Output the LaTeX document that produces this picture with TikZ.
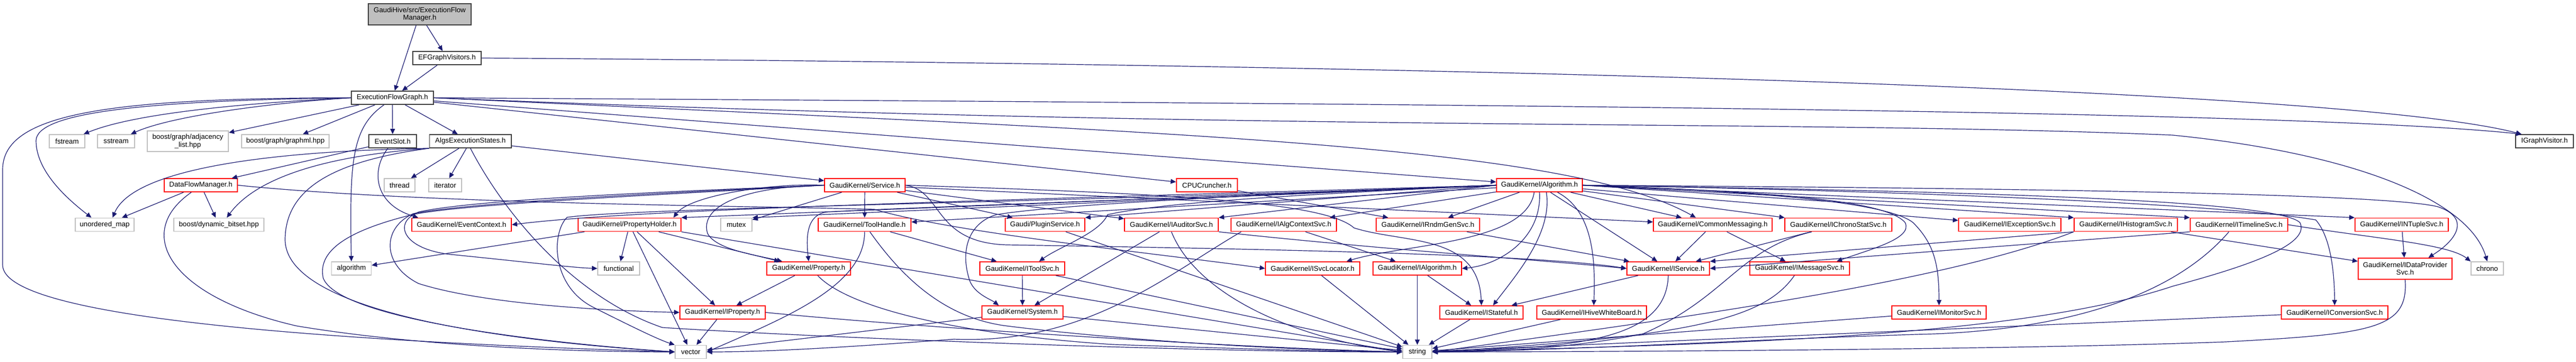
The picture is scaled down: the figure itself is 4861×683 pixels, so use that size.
\documentclass[tikz,border=0pt]{standalone}
\usepackage{fontspec}
\setmainfont{Liberation Sans}
\usetikzlibrary{arrows.meta,calc}
\definecolor{edgec}{HTML}{191970}
\definecolor{grayb}{HTML}{BFBFBF}
\definecolor{blackb}{HTML}{404040}
\definecolor{redb}{HTML}{FF0000}
\newcommand{\mknode}[6]{\node[#1, minimum width=#4pt, minimum height=#5pt] (#2) at (#3) {#6};}
\begin{document}
\begin{tikzpicture}[x=0.5pt, y=-0.5pt,
  nd/.style={draw, rectangle, fill=white, inner sep=0pt, align=center,
    font=\fontsize{6.65}{7.2}\selectfont, line width=0.9pt},
  rn/.style={nd, draw=redb},
  gn/.style={nd, draw=grayb},
  bn/.style={nd, draw=blackb},
  topn/.style={nd, draw=blackb, fill=grayb},
  dep/.style={draw=edgec, line width=0.6pt, -{Triangle[length=5pt,width=4.5pt]}}]
\useasboundingbox (0,0) rectangle (4861,683);
% ---------------- nodes ----------------
\mknode{topn}{efm}{792,27}{97}{20}{GaudiHive/src/ExecutionFlow\\Manager.h}
\mknode{bn}{efgv}{843.5,109.5}{64.5}{12.5}{EFGraphVisitors.h}
\mknode{bn}{efg}{740.5,184.5}{77.5}{12.5}{ExecutionFlowGraph.h}
\mknode{gn}{fstream}{126.5,266.5}{33.5}{12.5}{fstream}
\mknode{gn}{sstream}{219,266.5}{35}{12.5}{sstream}
\mknode{gn}{adj}{354.5,266.5}{76.5}{19.5}{boost/graph/adjacency\\\_list.hpp}
\mknode{gn}{graphml}{538.5,266.5}{82.5}{12.5}{boost/graph/graphml.hpp}
\mknode{bn}{eventslot}{741,266.5}{45}{12.5}{EventSlot.h}
\mknode{bn}{aes}{887.75,266.5}{77.25}{12.5}{AlgsExecutionStates.h}
\mknode{bn}{igv}{4801.5,266.5}{54.5}{12.5}{IGraphVisitor.h}
\mknode{rn}{dfm}{379,349.5}{69}{12.5}{DataFlowManager.h}
\mknode{gn}{thread}{754,349.5}{29}{12.5}{thread}
\mknode{gn}{iterator}{840,349.5}{31}{12.5}{iterator}
\mknode{rn}{service}{1632,349.5}{76}{12.5}{GaudiKernel/Service.h}
\mknode{rn}{cpu}{2277.5,349.5}{57.5}{12.5}{CPUCruncher.h}
\mknode{rn}{alg}{2905,349.5}{81}{12.5}{GaudiKernel/Algorithm.h}
\mknode{gn}{umap}{197.5,424}{55.5}{12.5}{unordered\_map}
\mknode{gn}{dynbit}{413,424}{85}{12.5}{boost/dynamic\_bitset.hpp}
\mknode{rn}{evctx}{871,424}{94}{12.5}{GaudiKernel/EventContext.h}
\mknode{rn}{propholder}{1188,424}{97}{12.5}{GaudiKernel/PropertyHolder.h}
\mknode{gn}{mutex}{1389.5,424}{29.5}{12.5}{mutex}
\mknode{rn}{toolhandle}{1631.5,424}{87.5}{12.5}{GaudiKernel/ToolHandle.h}
\mknode{rn}{plugin}{1972,424}{75}{12.5}{Gaudi/PluginService.h}
\mknode{rn}{iauditor}{2210.5,424}{88.5}{12.5}{GaudiKernel/IAuditorSvc.h}
\mknode{rn}{ialgctx}{2422.5,424}{99.5}{12.5}{GaudiKernel/IAlgContextSvc.h}
\mknode{rn}{irndm}{2694.5,424}{97.5}{12.5}{GaudiKernel/IRndmGenSvc.h}
\mknode{rn}{commsg}{3232,424}{112}{12.5}{GaudiKernel/CommonMessaging.h}
\mknode{rn}{ichrono}{3469,424}{101}{12.5}{GaudiKernel/IChronoStatSvc.h}
\mknode{rn}{iexc}{3792.5,424}{96.5}{12.5}{GaudiKernel/IExceptionSvc.h}
\mknode{rn}{ihist}{4011.5,424}{97.5}{12.5}{GaudiKernel/IHistogramSvc.h}
\mknode{rn}{itimeline}{4225,424}{92}{12.5}{GaudiKernel/ITimelineSvc.h}
\mknode{rn}{intuple}{4532,424}{88}{12.5}{GaudiKernel/INTupleSvc.h}
\mknode{gn}{algstd}{663,506.5}{37.5}{12.5}{algorithm}
\mknode{gn}{functional}{1167.5,506.5}{39.5}{12.5}{functional}
\mknode{rn}{property}{1526,506.5}{79}{12.5}{GaudiKernel/Property.h}
\mknode{rn}{itoolsvc}{1929,506.5}{80}{12.5}{GaudiKernel/IToolSvc.h}
\mknode{rn}{isvcloc}{2477,506.5}{89}{12.5}{GaudiKernel/ISvcLocator.h}
\mknode{rn}{ialgorithm}{2674.5,506.5}{83.5}{12.5}{GaudiKernel/IAlgorithm.h}
\mknode{rn}{iservice}{3148,506.5}{78}{12.5}{GaudiKernel/IService.h}
\mknode{rn}{imsgsvc}{3396,506.5}{94}{12.5}{GaudiKernel/IMessageSvc.h}
\mknode{rn}{idataprov}{4538.5,507}{88.5}{20}{GaudiKernel/IDataProvider\\Svc.h}
\mknode{gn}{chrono}{4693.5,506.5}{30.5}{12.5}{chrono}
\mknode{rn}{iproperty}{1363.5,589.5}{80.5}{12.5}{GaudiKernel/IProperty.h}
\mknode{rn}{system}{1929.5,589.5}{76.5}{12.5}{GaudiKernel/System.h}
\mknode{rn}{istateful}{2795.5,589.5}{78.5}{12.5}{GaudiKernel/IStateful.h}
\mknode{rn}{ihive}{3003.5,589.5}{103.5}{12.5}{GaudiKernel/IHiveWhiteBoard.h}
\mknode{rn}{imonitor}{3659,589.5}{89}{12.5}{GaudiKernel/IMonitorSvc.h}
\mknode{rn}{iconv}{4405.5,589.5}{100.5}{12.5}{GaudiKernel/IConversionSvc.h}
\mknode{gn}{vector}{1303.5,664}{29.5}{12.5}{vector}
\mknode{gn}{string}{2674.5,664}{27.5}{12.5}{string}
% ---------------- straight edges ----------------
\foreach \a/\b in {efm/efg, efm/efgv, efgv/efg, efg/adj, efg/graphml, efg/eventslot, efg/aes, efg/alg, efg/cpu,
  eventslot/dfm, aes/service, aes/thread, aes/iterator, dfm/umap, dfm/dynbit,
  service/toolhandle, service/plugin, service/iauditor, service/mutex, service/commsg,
  propholder/functional, propholder/iproperty, propholder/property, propholder/vector, propholder/algstd,
  property/iproperty, iproperty/vector, toolhandle/itoolsvc, itoolsvc/system, itoolsvc/string,
  iauditor/system, plugin/string, ialgctx/ialgorithm, ialgorithm/string, ialgorithm/istateful,
  isvcloc/string, irndm/iservice, commsg/iservice, commsg/imsgsvc, iservice/istateful,
  istateful/string, ihive/string, ichrono/iservice, ihist/idataprov, intuple/idataprov,
  cpu/irndm, alg/ialgctx, alg/irndm, alg/commsg, alg/iservice, alg/ichrono, alg/iexc, alg/toolhandle,
  imonitor/string, iconv/string, system/string, system/vector}
  \draw[dep] (\a) -- (\b);
\draw[dep] (propholder.south east) -- (string.west);
\draw[dep] (ihist.south west) -- (iservice.north east);
\draw[dep] (itimeline.south west) -- (iservice.east);
\draw[dep] (alg.west) -- (plugin.north east);
\draw[dep] (alg.west) -- (iauditor.north east);
\draw[dep] (alg.west) -- (mutex.north east);
\draw[dep] (alg.west) -- (propholder.north east);
\draw[dep] (alg.east) -- (ihist.north west);
\draw[dep] (alg.east) -- (itimeline.north west);
\draw[dep] (alg.east) -- (intuple.north west);
% ---------------- curved edges ----------------
\draw[dep] (efgv.east) .. controls (2500,120) and (4400,160) .. ($(igv.north west)+(12,0)$);
\draw[dep] (efg.east) .. controls (2500,195) and (4300,205) .. ($(igv.north west)+(12,0)$);
\draw[dep] (efg.east) .. controls (2400,250) and (3400,225) .. (4100,255) .. controls (4450,290) and (4660,380) .. (chrono.north);
\draw[dep] (efg.east) .. controls (2200,250) and (2950,270) .. ($(commsg.north)+(-32,0)$);
\draw[dep] (efg.west) .. controls (450,195) and (250,215) .. ($(fstream.north east)+(-3,0)$);
\draw[dep] (efg.west) .. controls (500,195) and (320,220) .. ($(sstream.north east)+(-8,0)$);
\draw[dep] (efg.west) .. controls (250,190) and (70,215) .. (68,265) .. controls (68,320) and (120,370) .. ($(umap.north)+(-25,0)$);
\draw[dep] (efg.west) .. controls (200,185) and (5,215) .. (5,320) -- (5,500) .. controls (5,590) and (500,640) .. (vector.west);
\draw[dep] ($(efg.south)+(-16,0)$) .. controls (665,240) and (659,300) .. (algstd.north);
\draw[dep] ($(eventslot.south)+(-9,0)$) .. controls (700,320) and (705,385) .. ($(evctx.north west)+(13,0)$);
\draw[dep] (aes.south west) .. controls (500,285) and (250,320) .. ($(umap.north)+(15,0)$);
\draw[dep] (aes.south west) .. controls (600,295) and (480,340) .. ($(dynbit.north)+(15,0)$);
\draw[dep] (aes.south west) .. controls (620,305) and (540,360) .. (538,450) .. controls (535,580) and (900,640) .. (vector.west);
\draw[dep] (aes.south) .. controls (950,400) and (1080,560) .. (1250,618) .. controls (1600,640) and (2300,665) .. (string.west);
\draw[dep] ($(dfm.south)+(-18,0)$) .. controls (250,440) and (320,560) .. (560,615) .. controls (800,655) and (1100,664) .. (vector.west);
\draw[dep] (dfm.east) .. controls (800,385) and (1400,388) .. (1650,395) .. controls (1800,440) and (2200,480) .. (isvcloc.west);
\draw[dep] (service.west) .. controls (1300,360) and (900,375) .. (790,400) .. controls (740,420) and (760,470) .. (850,480) .. controls (1000,495) and (1080,505) .. (functional.west);
\draw[dep] (service.west) .. controls (1300,362) and (900,380) .. (780,403) .. controls (720,430) and (720,500) .. (790,535) .. controls (900,570) and (1100,585) .. (iproperty.west);
\draw[dep] (service.west) .. controls (1300,365) and (850,385) .. (770,407) .. controls (640,440) and (600,480) .. (610,525) .. controls (640,600) and (1000,645) .. (vector.west);
\draw[dep] (service.east) .. controls (1780,360) and (1760,458) .. (1900,462) .. controls (2400,470) and (2900,480) .. (iservice.west);
\draw[dep] (service.east) .. controls (2200,365) and (2500,380) .. (2555,430) .. controls (2650,460) and (2790,440) .. (istateful.north);
\draw[dep] (service.west) .. controls (1450,345) and (1300,370) .. ($(propholder.north east)+(-15,0)$);
\draw[dep] (service.west) .. controls (1400,352) and (1320,390) .. (1335,440) .. controls (1350,470) and (1420,480) .. ($(property.north)+(-50,0)$);
\draw[dep] (toolhandle.south) .. controls (1632,540) and (1480,600) .. (vector.east);
\draw[dep] ($(toolhandle.south)+(10,0)$) .. controls (1700,520) and (1780,600) .. (1900,615) .. controls (2100,640) and (2400,660) .. (string.west);
\draw[dep] (iauditor.south) .. controls (2260,560) and (2450,640) .. (string.west);
\draw[dep] (iauditor.south east) .. controls (2600,470) and (2900,490) .. (iservice.west);
\draw[dep] ($(ialgctx.south west)+(20,0)$) .. controls (2200,520) and (2050,650) .. (1800,640) .. controls (1600,655) and (1450,664) .. (vector.east);
\draw[dep] ($(ichrono.south)+(-50,0)$) .. controls (3280,470) and (3260,560) .. (3100,630) .. controls (2950,660) and (2800,664) .. (string.east);
\draw[dep] (ihist.south west) .. controls (3700,520) and (3300,585) .. (string.east);
\draw[dep] ($(itimeline.south)+(-19,0)$) .. controls (4100,560) and (3900,620) .. (3650,630) .. controls (3300,640) and (3000,660) .. (string.east);
\draw[dep] (idataprov.south) .. controls (4545,620) and (4480,630) .. (4200,645) .. controls (3800,660) and (3000,664) .. (string.east);
\draw[dep] ($(imsgsvc.south)+(-10,0)$) .. controls (3330,600) and (3200,635) .. (string.east);
\draw[dep] (iservice.south) .. controls (3145,650) and (2950,655) .. (string.east);
\draw[dep] ($(property.south)+(17,0)$) .. controls (1600,580) and (1800,630) .. (2100,650) .. controls (2400,660) and (2550,664) .. (string.west);
\draw[dep] (iproperty.east) .. controls (1700,615) and (2300,655) .. (string.west);
\draw[dep] (itimeline.east) .. controls (4480,450) and (4620,460) .. (chrono.north west);
\draw[dep] (alg.west) .. controls (1800,380) and (1200,395) .. (evctx.east);
\draw[dep] (alg.west) .. controls (2200,375) and (1700,392) .. (1560,400) .. controls (1525,405) and (1520,440) .. (property.north);
\draw[dep] (alg.west) .. controls (2000,382) and (1200,392) .. (1070,410) .. controls (1040,440) and (1040,540) .. (1120,580) .. controls (1180,610) and (1240,640) .. (vector.north west);
\draw[dep] (alg.west) .. controls (2500,365) and (2200,380) .. (2090,405) .. controls (2075,440) and (2000,465) .. ($(itoolsvc.north)+(32,0)$);
\draw[dep] (alg.west) .. controls (2400,366) and (2000,385) .. (1880,405) .. controls (1830,420) and (1810,470) .. (1830,530) .. controls (1840,555) and (1870,565) .. ($(system.north)+(-45,0)$);
\draw[dep] ($(alg.south)+(-10,0)$) .. controls (2880,460) and (2650,460) .. ($(isvcloc.north)+(64,0)$);
\draw[dep] (alg.south) .. controls (2910,450) and (2830,500) .. (ialgorithm.east);
\draw[dep] ($(alg.south)+(13,0)$) .. controls (2930,440) and (2860,520) .. ($(istateful.north)+(22,0)$);
\draw[dep] ($(alg.south)+(34,0)$) .. controls (3010,400) and (3010,500) .. ($(ihive.north)+(4,0)$);
\draw[dep] (alg.east) .. controls (3300,360) and (3560,380) .. (3610,420) .. controls (3650,460) and (3659,500) .. (imonitor.north);
\draw[dep] (alg.east) .. controls (3350,362) and (3560,378) .. (3595,420) .. controls (3610,450) and (3530,470) .. ($(imsgsvc.north)+(70,0)$);
\draw[dep] (alg.east) .. controls (3600,360) and (4200,385) .. (4370,415) .. controls (4400,450) and (4405,520) .. (iconv.north);
\draw[dep] (alg.east) .. controls (3800,355) and (4500,365) .. (4600,390) .. controls (4660,410) and (4640,450) .. ($(idataprov.north)+(44,0)$);
\draw[dep] (alg.east) .. controls (3800,362) and (4300,380) .. (4340,420) .. controls (4360,460) and (4250,500) .. (4100,540) .. controls (3800,640) and (3200,650) .. (string.east);
\end{tikzpicture}
\end{document}
